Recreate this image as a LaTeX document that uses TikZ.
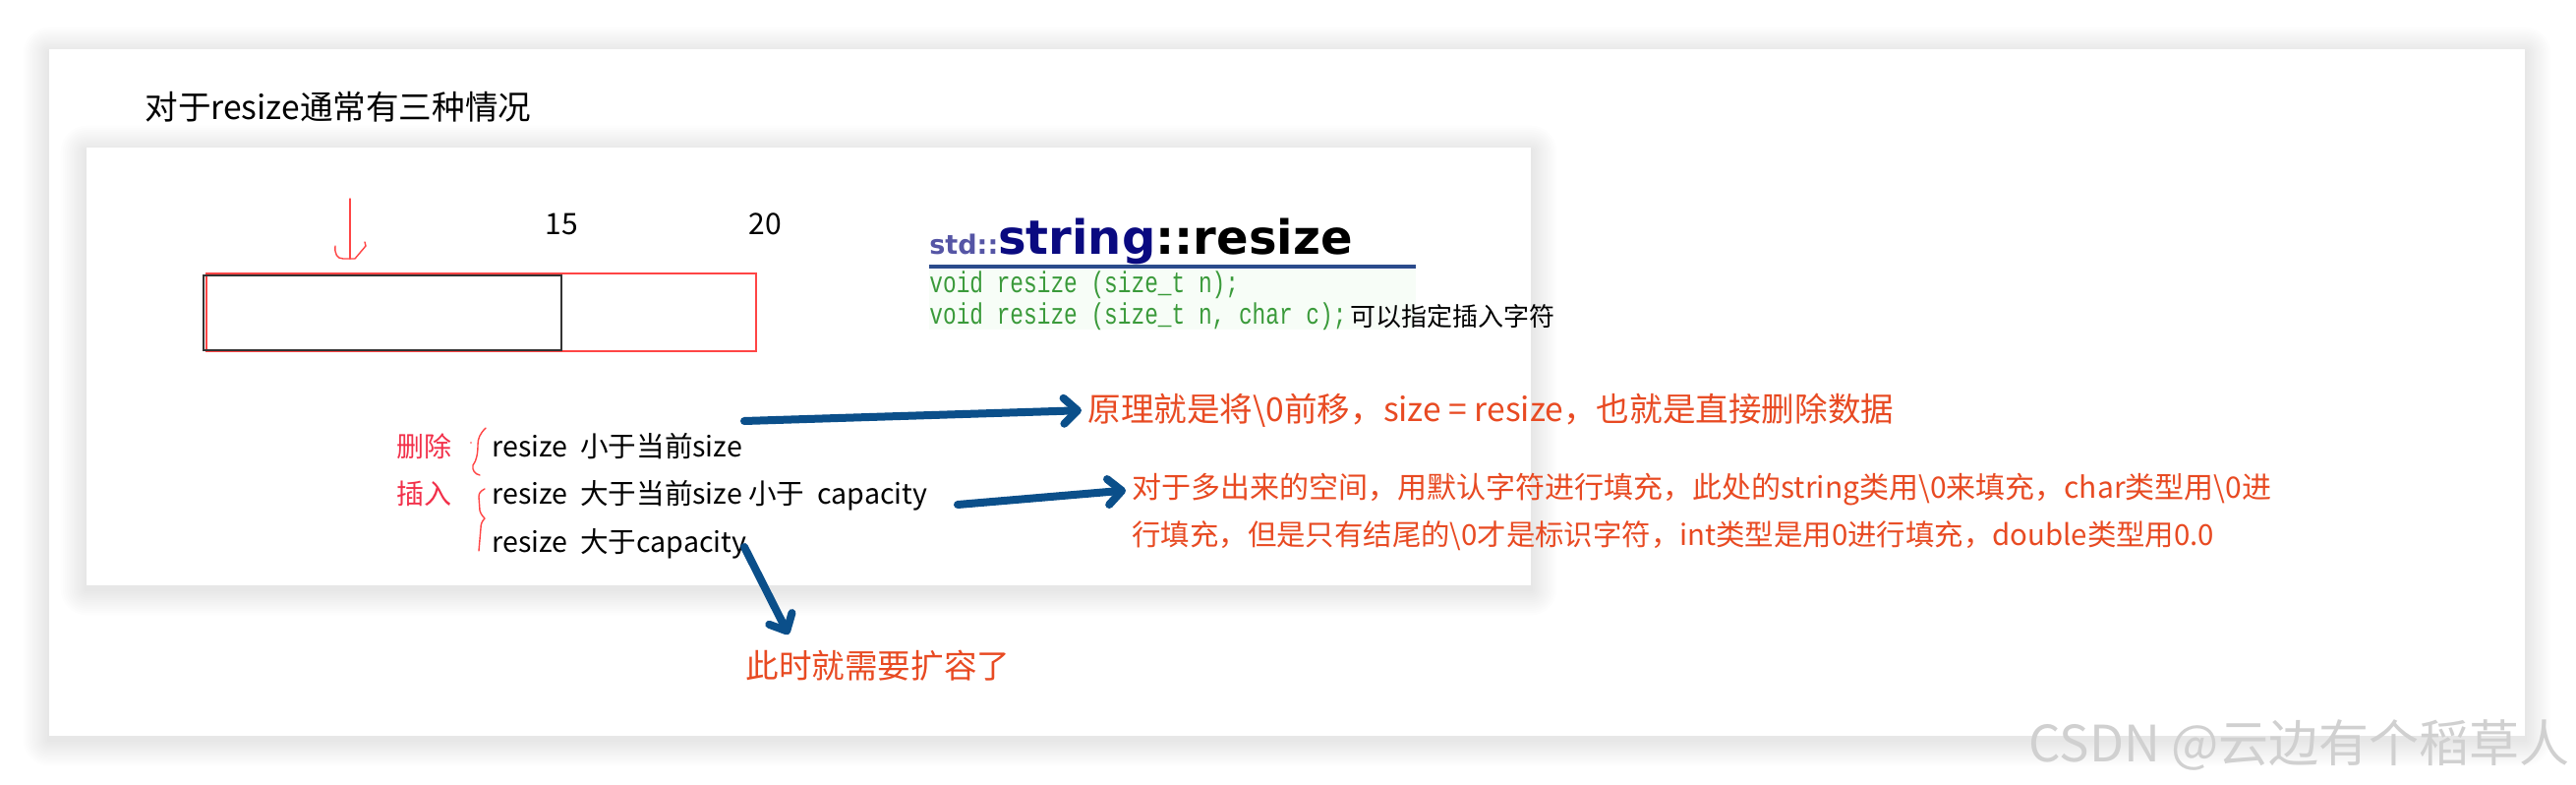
\documentclass[tikz,border=0pt]{standalone}
\usepackage{fontspec}
\setmainfont{Noto Sans CJK SC}
\newfontfamily\headfont{DejaVu Sans}
\newfontfamily\codefont{Liberation Mono}[FakeStretch=0.76]
\usetikzlibrary{arrows.meta}
\definecolor{penred}{HTML}{FF4545}
\definecolor{labred}{HTML}{F2304A}
\definecolor{notered}{HTML}{E84A22}
\definecolor{arrblue}{HTML}{0B4F8A}
\definecolor{stdc}{HTML}{5555A5}
\definecolor{strc}{HTML}{0A0A80}
\definecolor{rulec}{HTML}{2B4B8C}
\definecolor{codec}{HTML}{3A9A3A}
\definecolor{codebg}{HTML}{F7FDF7}
\definecolor{wmc}{HTML}{D0D0D0}
\newcommand\softshadow[4]{%
  \foreach \i in {1,...,12}{%
    \pgfmathsetmacro\d{\i*2.2}%
    \fill[black,opacity=0.009,rounded corners=\d*0.5pt] (#1-\d,#2-\d+4) rectangle (#3+\d,#4+\d+4);
  }%
  \fill[white] (#1,#2) rectangle (#3,#4);}
\begin{document}
\begin{tikzpicture}[x=0.5pt,y=-0.5pt,
  txt/.style={anchor=west,inner sep=0pt,font=\fontsize{14.3}{17}\selectfont},
  lab/.style={anchor=west,inner sep=0pt,text=labred,font=\fontsize{14}{16}\selectfont},
  note/.style={anchor=west,inner sep=0pt,text=notered},
  code/.style={anchor=west,inner sep=0pt,text=codec,font=\codefont\fontsize{15}{17}\selectfont},
  bluearrow/.style={draw=arrblue,line width=4pt,line cap=round,-{Straight Barb[length=7pt,width=13pt,round]}},
  pen/.style={draw=penred,line width=0.7pt,line cap=round,line join=round}]
\useasboundingbox (0,0) rectangle (2620,798);
\fill[white] (0,0) rectangle (2620,798);
% cards
\softshadow{50}{50}{2568}{748}
\softshadow{88}{150}{1557}{595}
% title
\node[txt,font=\fontsize{16.8}{20}\selectfont] (title) at (147,109) {对于resize通常有三种情况};
% buffer drawing
\draw[penred,line width=0.75pt] (210,278) rectangle (769,357);
\draw[black!80,line width=0.75pt] (207,280) rectangle (571,356);
\node[inner sep=0pt,font=\fontsize{15}{18}\selectfont] (n15) at (571,228) {15};
\node[inner sep=0pt,font=\fontsize{15}{18}\selectfont] (n20) at (778,228) {20};
\draw[pen] (356,202) -- (356,263);
\draw[pen] (341,250) .. controls (340,258) and (343,263) .. (349,263) -- (361,263) -- (372,250) -- (371,246);
% std::string::resize header
\node[anchor=base west,inner sep=0pt,font=\headfont\bfseries] (hdr) at (945,258)
  {{\fontsize{13.5}{16}\selectfont\color{stdc}std::}{\fontsize{24}{28}\selectfont\color{strc}string}{\fontsize{24}{28}\selectfont ::resize}};
\fill[codebg] (945,274) rectangle (1440,335);
\draw[rulec,line width=1.75pt] (945,271) -- (1440,271);
\node[code] (c1) at (945,290) {void resize (size\_t n);};
\node[code] (c2) at (945,322) {void resize (size\_t n, char c);};
\node[txt,font=\fontsize{13}{16}\selectfont] (c2n) at (1373,322) {可以指定插入字符};
% cases
\node[lab] (del) at (403,454) {删除};
\node[lab] (ins) at (403,502) {插入};
\node[txt] (l1) at (500,454) {resize\ \ 小于当前size};
\node[txt] (l2) at (500,504) {resize\ \ 大于当前size 小于\ \ capacity};
\node[txt] (l3) at (500,553) {resize\ \ 大于capacity};
\draw[pen] (494,435) .. controls (488,441) and (486,446) .. (486,452) .. controls (486,460) and (485,468) .. (481,473) .. controls (480,478) and (483,482) .. (488,483);
\fill[penred] (479,450) circle (0.8);
\draw[pen] (493,497) .. controls (489,499) and (487,501) .. (487,505) -- (488,519) .. controls (489,523) and (492,526) .. (493,527) .. controls (490,530) and (489,533) .. (489,537) -- (487,560);
% notes
\node[note,font=\fontsize{16.8}{20}\selectfont] (t1) at (1106,417) {原理就是将\textbackslash 0前移，size = resize，也就是直接删除数据};
\node[note,font=\fontsize{15}{18}\selectfont] (t2a) at (1151,498) {对于多出来的空间，用默认字符进行填充，此处的string类用\textbackslash 0来填充，char类型用\textbackslash 0进};
\node[note,font=\fontsize{14.7}{18}\selectfont] (t2b) at (1151,545) {行填充，但是只有结尾的\textbackslash 0才是标识字符，int类型是用0进行填充，double类型用0.0};
\node[note,font=\fontsize{16.8}{20}\selectfont] (t3) at (758,677) {此时就需要扩容了};
% arrows
\coordinate (a1s) at (757,428);
\coordinate (a2s) at (974,513);
\coordinate (a3s) at (757,556);
\coordinate (a3e) at (802,645);
\draw[bluearrow,shorten >=3pt] (a1s) -- (t1.west);
\draw[bluearrow,shorten >=3pt] (a2s) -- (t2a.west);
\draw[bluearrow] (a3s) -- (a3e);
% watermark
\node[anchor=west,inner sep=0pt,text=wmc,font=\fontsize{25.5}{30}\selectfont] (wm) at (2063,757) {CSDN @云边有个稻草人};
\end{tikzpicture}
\end{document}
